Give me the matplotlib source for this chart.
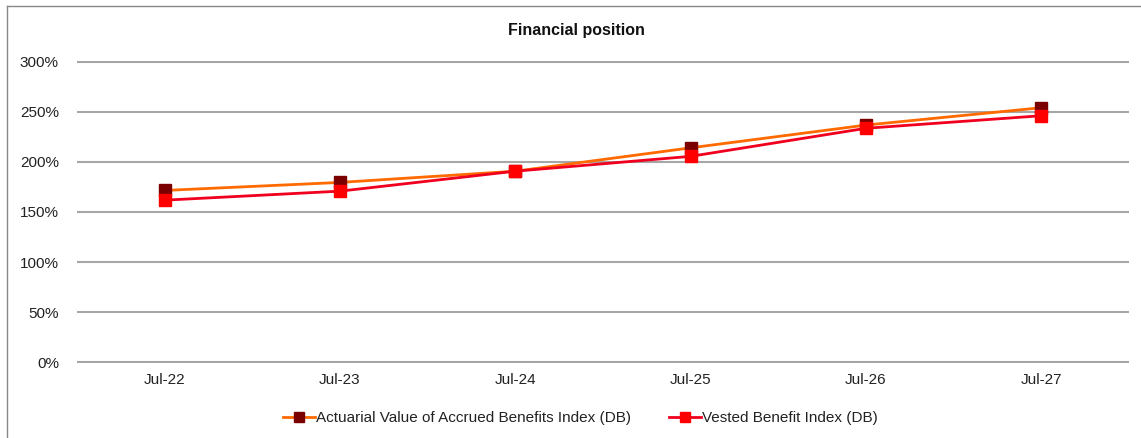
import matplotlib
matplotlib.use("Agg")
import matplotlib.pyplot as plt
from matplotlib.lines import Line2D
from matplotlib.ticker import PercentFormatter

plt.rcParams['font.family'] = ['Liberation Sans', 'DejaVu Sans']

# data
periods = ["Jul-22", "Jul-23", "Jul-24", "Jul-25", "Jul-26", "Jul-27"]
avab_index = [171.5, 179.5, 190.7, 214.0, 236.7, 254.0]     # Actuarial Value of Accrued Benefits Index (DB)
vested_index = [161.8, 170.8, 190.7, 205.5, 233.5, 246.0]   # Vested Benefit Index (DB)
y_ticks = [0, 50, 100, 150, 200, 250, 300]

fig = plt.figure(figsize=(11.41, 4.38), dpi=100)
ax = fig.add_axes([77 / 1141, 1 - 363 / 438, (1129 - 77) / 1141, (363 - 61) / 438])

x = range(len(periods))
ax.plot(x, avab_index, color='#FF6A00', lw=2, marker='s', ms=8.5,
        mfc='#7A0000', mec='#7A0000', zorder=3,
        label='Actuarial Value of Accrued Benefits Index (DB)')
ax.plot(x, vested_index, color='#F0001E', lw=2, marker='s', ms=8.5,
        mfc='#FF0000', mec='#FF0000', zorder=4,
        label='Vested Benefit Index (DB)')

ax.set_xlim(-0.5, len(periods) - 0.5)
ax.set_ylim(-0.6, 300.6)
ax.set_yticks(y_ticks)
ax.yaxis.set_major_formatter(PercentFormatter(decimals=0))
ax.set_xticks(list(x))
ax.set_xticklabels(periods)
ax.tick_params(axis='both', length=0, labelsize=11, colors='#222222')
ax.tick_params(axis='y', pad=13)
ax.tick_params(axis='x', pad=7)
ax.grid(axis='y', color='#A6A6A6', lw=1.5)
ax.set_axisbelow(True)
for s in ax.spines.values():
    s.set_visible(False)

fig.text(576 / 1141, 1 - 31 / 438, 'Financial position', ha='center', va='center',
         fontsize=11.5, fontweight='bold', color='#111111')

leg = fig.legend(loc='center', bbox_to_anchor=(580 / 1141, 1 - 418 / 438), ncol=2,
                 frameon=False, fontsize=11, handlelength=2.1, handletextpad=0.05,
                 columnspacing=2.5, markerscale=0.9)
for t in leg.get_texts():
    t.set_color('#222222')

# chart frame (top and left edge only visible)
fig.add_artist(Line2D([7 / 1141, 1], [1 - 6 / 438, 1 - 6 / 438], transform=fig.transFigure,
                      color='#888888', lw=1))
fig.add_artist(Line2D([7 / 1141, 7 / 1141], [0, 1 - 6 / 438], transform=fig.transFigure,
                      color='#888888', lw=1))

fig.savefig('out.png', dpi=100)
